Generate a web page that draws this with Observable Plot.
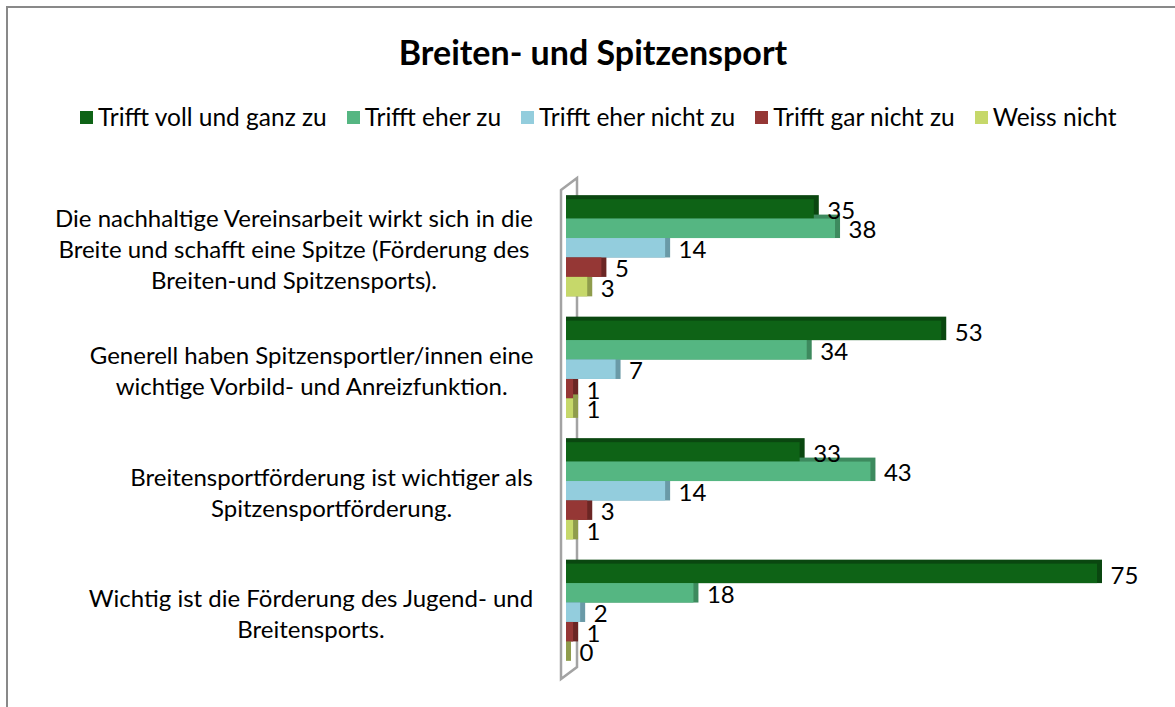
<!DOCTYPE html>
<html><head><meta charset="utf-8">
<script src="https://cdn.jsdelivr.net/npm/d3@7"></script>
<script src="https://cdn.jsdelivr.net/npm/@observablehq/plot@0.6"></script>
<style>
body{margin:0;background:#fff;font-family:Lato,sans-serif;color:#000;}
#wrap{position:relative;width:1175px;height:707px;overflow:hidden;}
#border{position:absolute;left:6px;top:6px;width:1300px;height:900px;border-left:2px solid #898989;border-top:2px solid #898989;}
#title{position:absolute;top:32px;left:0;width:1186px;text-align:center;font-weight:bold;font-size:34px;line-height:40px;}
#legend{position:absolute;top:102px;left:80px;display:flex;align-items:center;font-size:24.5px;line-height:30px;white-space:nowrap;}
#legend .it{display:flex;align-items:center;margin-right:20px;}
#legend .sw{width:13px;height:13px;margin-right:5px;}
#chart{position:absolute;top:150px;left:0;}
</style></head>
<body><div id="wrap"><div id="border"></div>
<div id="title">Breiten- und Spitzensport</div>
<div id="legend"></div>
<div id="chart"></div></div>
<script>
const categories = [
  "Die nachhaltige Vereinsarbeit wirkt sich in die\nBreite und schafft eine Spitze (Förderung des\nBreiten-und Spitzensports).",
  "Generell haben Spitzensportler/innen eine\nwichtige Vorbild- und Anreizfunktion.",
  "Breitensportförderung ist wichtiger als\nSpitzensportförderung.",
  "Wichtig ist die Förderung des Jugend- und\nBreitensports."
];
const series = ["Trifft voll und ganz zu","Trifft eher zu","Trifft eher nicht zu","Trifft gar nicht zu","Weiss nicht"];
const vollUndGanz = [35,53,33,75];
const eherZu = [38,34,43,18];
const eherNicht = [14,7,14,2];
const garNicht = [5,1,3,1];
const weissNicht = [3,1,1,0];
const colors = ["#0e6316","#55b682","#93cddd","#953735","#c6d86a"];
const sideColors = ["#0a4710","#3d8a5e","#6a9aa7","#6b2624","#8f9c4c"];

const valuesBySeries = [vollUndGanz, eherZu, eherNicht, garNicht, weissNicht];
const barH = 0.16;
const rows = [];
categories.forEach((c, ci) => {
  series.forEach((s, si) => {
    const y1 = ci - 0.4 + si * barH;
    rows.push({cat: c, ci, series: s, si, value: valuesBySeries[si][ci], y1, y2: y1 + barH, ym: y1 + barH / 2});
  });
});

// legend
const lg = document.getElementById("legend");
series.forEach((s, i) => {
  const it = document.createElement("div"); it.className = "it";
  const sw = document.createElement("div"); sw.className = "sw"; sw.style.background = colors[i];
  const t = document.createElement("span"); t.textContent = s;
  it.append(sw, t); lg.append(it);
});

const FS = 24;
const labelFont = FS + "px Lato";
const ctx = document.createElement("canvas").getContext("2d");
ctx.font = labelFont;
const labelWidth = (str) => d3.max(str.split("\n"), l => ctx.measureText(l).width);

const W = 1175, H = 557, ML = 566, pxPerUnit = 7.08, xMax = 80;
const MR = W - ML - xMax * pxPerUnit;

const wall = (index, scales, values, dim) => {
  const x0 = scales.x(0);
  const top = dim.marginTop, bottom = dim.height - dim.marginBottom;
  const p = d3.path();
  p.moveTo(x0 - 5, top + 3); p.lineTo(x0 + 11, top - 9); p.lineTo(x0 + 11, bottom - 6);
  p.lineTo(x0 - 5, bottom + 6); p.closePath();
  const el = d3.create("svg:path").attr("d", p.toString()).attr("fill", "none")
    .attr("stroke", "#a3a3a3").attr("stroke-width", 2.5).attr("stroke-linejoin", "miter");
  return el.node();
};

const labelMarks = categories.map((c) => Plot.text([c], {
  frameAnchor: "left", y: () => categories.indexOf(c), text: d => d,
  textAnchor: "middle", lineHeight: 31 / FS, fontSize: FS, fill: "#000",
  dx: -33 - labelWidth(c) / 2
}));

const chart = Plot.plot({
  width: W, height: H,
  marginLeft: ML, marginRight: MR, marginTop: 37, marginBottom: 34,
  style: {fontFamily: "Lato, sans-serif", background: "transparent", overflow: "visible"},
  x: {domain: [0, xMax], axis: null},
  y: {domain: [-0.5, 3.5], reverse: true, axis: null},
  marks: [
    wall,
    Plot.rectX(rows, {x1: 0, x2: "value", y1: "y1", y2: "y2", fill: d => sideColors[d.si], insetTop: -4, insetRight: -5}),
    Plot.rectX(rows, {x1: 0, x2: "value", y1: "y1", y2: "y2", fill: d => colors[d.si]}),
    Plot.text(rows, {x: "value", y: "ym", text: d => String(d.value), textAnchor: "start", dx: 13, dy: 2, fontSize: FS, fill: "#000"}),
    ...labelMarks
  ]
});
document.getElementById("chart").append(chart);
</script>
</body></html>
